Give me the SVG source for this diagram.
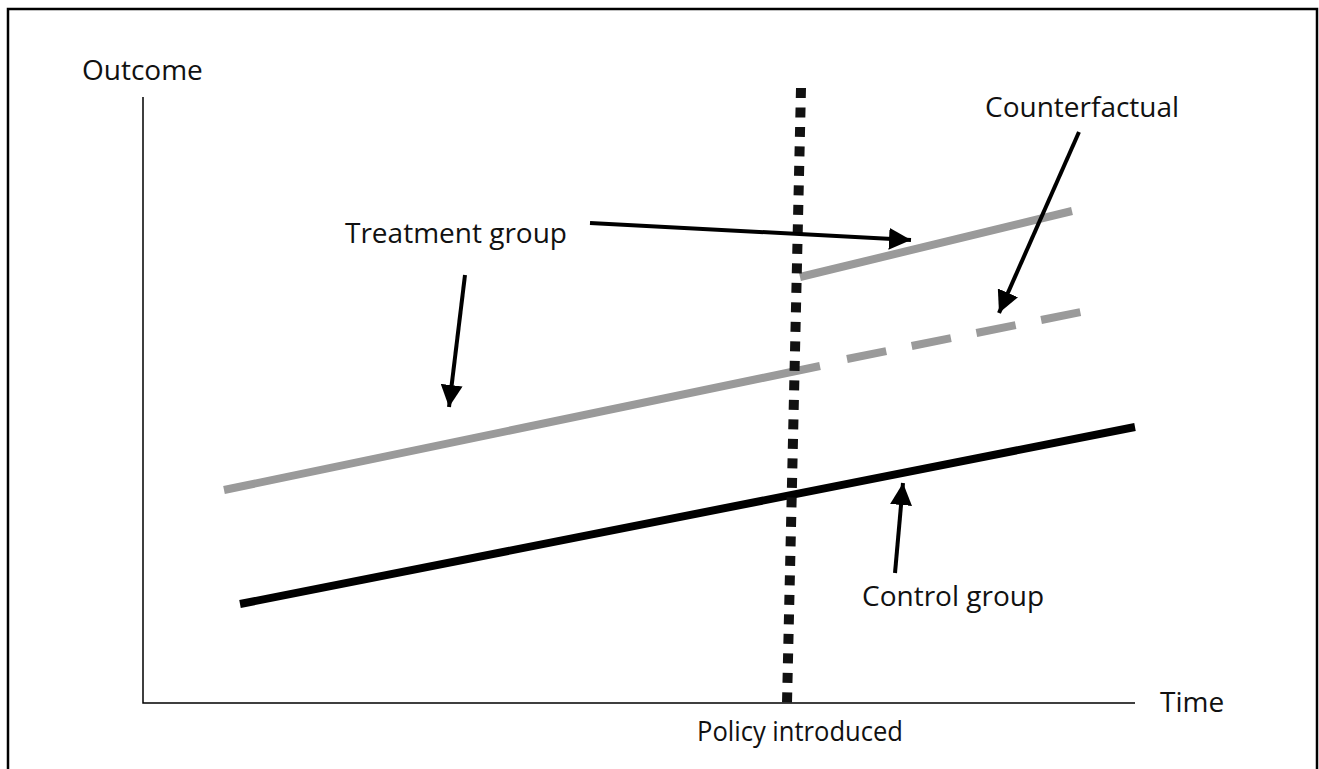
<svg xmlns="http://www.w3.org/2000/svg" width="1319" height="769" viewBox="0 0 1319 769">
<style>
text{font-family:"Open Sans","Liberation Sans",sans-serif;font-size:28px;fill:#111}
.axis{stroke:#000;stroke-width:1.5;fill:none}
.grey{stroke:#9a9a9a;stroke-width:8;fill:none}
.blk{stroke:#000;stroke-width:8;fill:none}
.arrow{stroke:#000;stroke-width:4;fill:none;marker-end:url(#ah)}
</style>
<defs>
<marker id="ah" markerUnits="userSpaceOnUse" markerWidth="22" markerHeight="22" viewBox="0 0 20 20" refX="20" refY="10" orient="auto">
<path d="M0,0 L20,10 L0,20 Z" fill="#000"/>
</marker>
</defs>
<rect width="1319" height="769" fill="#fff"/>
<path d="M8,769 V9 H1317 V769" fill="none" stroke="#000" stroke-width="2.5"/>
<g id="axes">
<path class="axis" d="M143,97 V703 H1135"/>
<text x="82" y="80">Outcome</text>
<text x="1160" y="712">Time</text>
</g>
<g id="treatment">
<path class="grey" d="M224,490 L820,366"/>
<path class="grey" d="M800,277 L1072,211"/>
<path class="grey" d="M847,359 L1081,312" stroke-dasharray="40 26"/>
</g>
<g id="control">
<path class="blk" d="M240,604 L1135,427"/>
</g>
<g id="policy">
<path d="M801,88 L787,703" stroke="#111" stroke-width="10" stroke-dasharray="10 9.5" fill="none"/>
<text x="697" y="741" style="font-size:27px" textLength="206" lengthAdjust="spacingAndGlyphs">Policy introduced</text>
</g>
<g id="labels">
<text x="345" y="243">Treatment group</text>
<text x="985" y="117">Counterfactual</text>
<text x="862" y="606">Control group</text>
</g>
<g id="connectors">
<path class="arrow" d="M590,223 L911,240"/>
<path class="arrow" d="M465,275 L449,407"/>
<path class="arrow" d="M1079,132 L999,313"/>
<path class="arrow" d="M895,573 L903,483"/>
</g>
</svg>
